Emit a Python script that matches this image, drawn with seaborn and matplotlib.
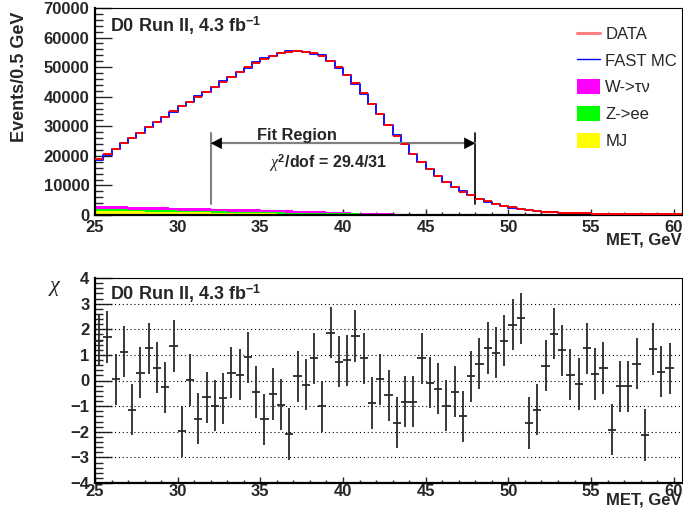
import numpy as np
import pandas as pd
import matplotlib
matplotlib.use("Agg")
import matplotlib.pyplot as plt
from matplotlib.ticker import MultipleLocator
from matplotlib.lines import Line2D
from matplotlib.patches import Patch
import seaborn as sns

# ---------------- data ----------------
x_min, x_max, bin_w = 25.0, 60.5, 0.5
n_bins = 71
bin_centers = np.linspace(x_min + bin_w / 2, x_max - bin_w / 2, n_bins)

data_events = [18840, 20530, 22420, 24450, 25930, 27830, 29760, 31560, 33250, 35060,
               36750, 38320, 40010, 41600, 43180, 45090, 46780, 48470, 49940, 51520,
               52760, 53770, 54680, 55130, 55360, 55240, 54680, 53900, 52200, 50000,
               47350, 44530, 41150, 37430, 34160, 30440, 26830, 23900, 20630, 18040,
               15450, 13300, 11060, 9370, 7890, 6650, 5520, 4620, 3830, 3160,
               2590, 2030, 1580, 1350, 1130, 900, 790, 680, 620, 560,
               500, 450, 450, 390, 390, 340, 330, 280, 280, 230, 220]

fast_mc = [18700, 20400, 22410, 24330, 26010, 27800, 29640, 31510, 33280, 34930,
           37010, 38320, 40250, 41730, 43390, 45240, 46730, 48440, 49740, 51620,
           53110, 53890, 54900, 55460, 55320, 55280, 54480, 54130, 51960, 49830,
           47180, 44160, 40980, 37610, 34150, 30540, 27100, 24030, 20750, 17930,
           15460, 13340, 11160, 9410, 8010, 6640, 5470, 4540, 3760, 3090,
           2480, 1920, 1650, 1390, 1110, 850, 760, 670, 620, 530,
           490, 440, 490, 390, 400, 330, 370, 260, 290, 220, 220]

mj = [1470, 1420, 1370, 1320, 1270, 1220, 1170, 1120, 1080, 1040,
      1000, 960, 920, 880, 830, 780, 730, 680, 630, 590,
      550, 510, 470, 430, 400, 370, 340, 300, 270, 240,
      220, 210, 200, 190, 180, 175, 170, 165, 160, 155,
      150, 145, 140, 135, 130, 125, 120, 115, 110, 105,
      100, 95, 90, 85, 80, 75, 70, 65, 60, 55,
      50, 45, 40, 35, 30, 25, 20, 20, 15, 10, 10]

z_ee = [560, 555, 550, 545, 540, 530, 520, 510, 500, 490,
        480, 470, 460, 455, 450, 450, 445, 445, 440, 440,
        435, 430, 420, 410, 400, 390, 380, 365, 350, 340,
        330, 320, 305, 290, 275, 260, 245, 230, 215, 205,
        200, 195, 190, 185, 180, 175, 170, 165, 160, 155,
        150, 145, 140, 135, 130, 120, 110, 100, 95, 90,
        85, 80, 70, 60, 50, 45, 40, 30, 25, 20, 20]

w_taunu = [1130, 1120, 1100, 1080, 1060, 1040, 1020, 1000, 980, 960,
           940, 930, 920, 910, 900, 900, 900, 890, 880, 870,
           860, 830, 800, 760, 720, 670, 610, 540, 470, 400,
           340, 290, 240, 200, 160, 120, 90, 70, 55, 45,
           35, 30, 25, 20, 15, 12, 10, 8, 6, 5,
           4, 3, 3, 2, 2, 2, 1, 1, 1, 1,
           0, 0, 0, 0, 0, 0, 0, 0, 0, 0, 0]

chi_values = [1.55, 1.7, 0.04, 1.12, -1.14, 0.31, 1.25, 0.5, -0.27, 1.35,
              -1.99, 0.02, -1.49, -0.65, -0.99, -0.70, 0.31, 0.23, 0.91, -0.45,
              -1.52, -0.53, -0.94, -2.09, 0.17, -0.17, 0.87, -1.01, 1.87, 0.74,
              0.79, 1.74, 0.86, -0.88, 0.05, -0.58, -1.64, -0.82, -0.82, 0.87,
              -0.09, -0.32, -0.99, -0.43, -1.40, 0.16, 0.66, 1.27, 1.08, 1.55,
              2.18, 2.43, -1.66, -1.14, 0.58, 1.83, 1.18, 0.23, -0.14, 1.25,
              0.25, 0.49, -1.92, -0.22, -0.23, 0.66, -2.13, 1.23, 0.34, 0.47]
chi_centers = bin_centers[:len(chi_values)]

processes = ["W->τν", "Z->ee", "MJ"]
proc_colors = {"W->τν": "#ff00ff", "Z->ee": "#00ff00", "MJ": "#ffff00"}

fit_low, fit_high = 32.0, 48.0

# ---------------- style ----------------
sns.set_style("white")
plt.rcParams["font.family"] = ["Liberation Sans", "DejaVu Sans"]
plt.rcParams["mathtext.fontset"] = "custom"
plt.rcParams["mathtext.rm"] = "Liberation Sans"
plt.rcParams["mathtext.it"] = "Liberation Serif:italic"
plt.rcParams["mathtext.bf"] = "Liberation Sans:bold"

W, H = 683, 523
fig = plt.figure(figsize=(W / 100, H / 100), dpi=100)
fig.patch.set_facecolor("white")

ax1 = fig.add_axes([95 / W, (H - 215) / H, 587 / W, 207 / H])
ax2 = fig.add_axes([95 / W, (H - 483) / H, 587 / W, 205 / H])

# ---------------- top panel ----------------
bg = pd.DataFrame({
    "MET": np.concatenate([bin_centers] * 3),
    "events": np.concatenate([w_taunu, z_ee, mj]),
    "process": np.repeat(processes, len(bin_centers)),
})
sns.histplot(data=bg, x="MET", weights="events", hue="process", hue_order=processes,
             multiple="stack", bins=n_bins, binrange=(x_min, x_max), element="step",
             palette=proc_colors, alpha=1.0, linewidth=0, legend=False, ax=ax1)

sns.histplot(x=bin_centers, weights=fast_mc, bins=n_bins, binrange=(x_min, x_max),
             element="step", fill=False, color="#1010ff", linewidth=1.4, ax=ax1)
ax1.errorbar(bin_centers, data_events, xerr=bin_w / 2, fmt="none", ecolor="#ff0000",
             elinewidth=1.4, capsize=0, zorder=5)

ax1.set_xlim(x_min, x_max)
ax1.set_ylim(0, 70000)
ax1.set_xlabel("")
ax1.set_ylabel("")

# Fit region annotation
arrow_y = 24250
ax1.plot([fit_low, fit_low], [3700, 27800], color="#808080", lw=1.5)
ax1.plot([fit_high, fit_high], [3700, 27800], color="black", lw=1.2)
ax1.plot([fit_low, fit_high], [arrow_y, arrow_y], color="#808080", lw=1.6)
for tip, tail in ((fit_low, fit_low + 1.0), (fit_high, fit_high - 1.0)):
    ax1.annotate("", xy=(tip, arrow_y), xytext=(tail, arrow_y),
                 arrowprops=dict(arrowstyle="-|>,head_length=0.8,head_width=0.42",
                                 mutation_scale=10, fc="black", ec="black", lw=0.01,
                                 shrinkA=0, shrinkB=0))
ax1.text(34.8, 25360, "Fit Region", fontsize=11.8, fontweight="bold", ha="left", va="baseline")
ax1.text(35.5, 15790, r"$\chi^{\mathbf{2}}$/dof = 29.4/31", fontsize=11.5,
         fontweight="bold", ha="left", va="baseline")

ax1.text(0.0256, 0.8826, r"D0 Run II, 4.3 fb$^{\mathbf{-1}}$", transform=ax1.transAxes,
         fontsize=13, fontweight="bold", ha="left", va="baseline")

handles = [Line2D([], [], color="#ff8080", lw=2.2),
           Line2D([], [], color="#0000ff", lw=1.0)] + \
          [Patch(facecolor=proc_colors[p], edgecolor="none") for p in processes]
labels = ["DATA", "FAST MC"] + processes
leg = ax1.legend(handles, labels, loc="upper left",
                 bbox_to_anchor=(577 / W, 1 - 26 / H), bbox_transform=fig.transFigure,
                 frameon=False, fontsize=12, borderpad=0, borderaxespad=0,
                 handlelength=1.4, handleheight=1.0, handletextpad=0.3, labelspacing=0.63)

# ---------------- bottom panel ----------------
for yv in range(-3, 5):
    ax2.axhline(yv, color="black", lw=0.8, ls=(0, (1, 2.5)), zorder=1)
ax2.errorbar(chi_centers, chi_values, xerr=bin_w / 2, yerr=1.0, fmt="none",
             ecolor="#2a2a2a", elinewidth=1.3, capsize=0, zorder=3)
ax2.set_xlim(x_min, x_max)
ax2.set_ylim(-4, 4)
ax2.text(0.0256, 0.893, r"D0 Run II, 4.3 fb$^{\mathbf{-1}}$", transform=ax2.transAxes,
         fontsize=13, fontweight="bold", ha="left", va="baseline")

# ---------------- axes styling ----------------
ax1.yaxis.set_major_locator(MultipleLocator(10000))
ax1.yaxis.set_minor_locator(MultipleLocator(2000))
ax2.yaxis.set_major_locator(MultipleLocator(1))
ax2.yaxis.set_minor_locator(MultipleLocator(0.2))
for ax in (ax1, ax2):
    ax.xaxis.set_major_locator(MultipleLocator(5))
    ax.xaxis.set_minor_locator(MultipleLocator(1))
    ax.tick_params(axis="x", which="major", direction="in", length=4.5, width=1.0,
                   labelsize=12, pad=3.5, bottom=True, top=False)
    ax.tick_params(axis="x", which="minor", direction="in", length=2.5, width=1.0,
                   bottom=True, top=False)
    ax.tick_params(axis="y", which="major", direction="in", length=12, width=1.0,
                   labelsize=12, pad=4, left=True, right=False)
    ax.tick_params(axis="y", which="minor", direction="in", length=6, width=1.0,
                   left=True, right=False)
    ax.spines["left"].set_linewidth(1.6)
    ax.spines["bottom"].set_linewidth(1.6)
    ax.spines["top"].set_linewidth(0.8)
    ax.spines["right"].set_linewidth(0.8)
    for s in ax.spines.values():
        s.set_color("black")
        s.set_visible(True)
ax2.tick_params(axis="x", which="major", pad=0.5)
ax2.set_xlabel("")
ax2.set_ylabel("")
for ax in (ax1, ax2):
    for lab in ax.get_xticklabels() + ax.get_yticklabels():
        lab.set_fontweight("bold")

fig.text(20 / W, 1 - 12 / H, "Events/0.5 GeV", rotation=90, ha="center", va="top",
         fontsize=13, fontweight="bold")
fig.text(682 / W, 1 - 240 / H, "MET, GeV", ha="right", va="center", fontsize=12, fontweight="bold")
fig.text(682 / W, 1 - 500 / H, "MET, GeV", ha="right", va="center", fontsize=12, fontweight="bold")
fig.text(55 / W, 1 - 286 / H, "χ", ha="center", va="center", fontsize=16,
         family="Liberation Serif", style="italic")

fig.savefig("out.png", dpi=100, facecolor="white")
